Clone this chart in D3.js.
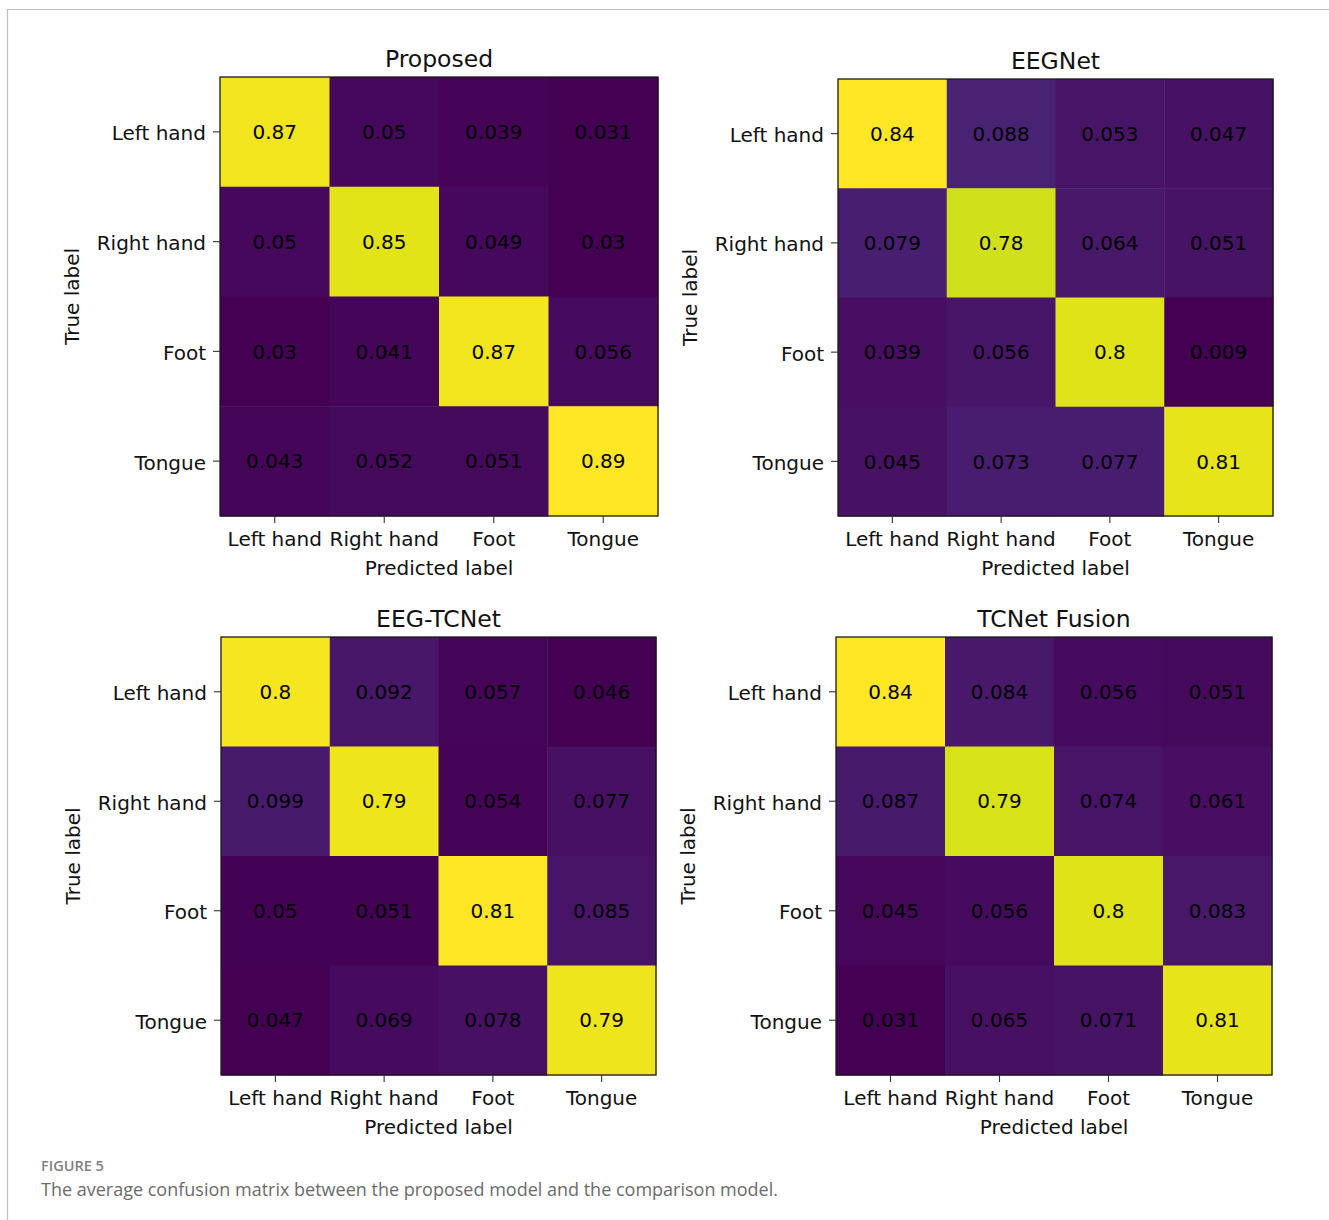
<!DOCTYPE html>
<html>
<head>
<meta charset="utf-8">
<script src="https://cdn.jsdelivr.net/npm/d3@7"></script>
<style>
  html, body { margin: 0; padding: 0; background: #fff; }
  svg { display: block; }
</style>
</head>
<body>
<svg id="fig" width="1329" height="1220"></svg>
<script>
// Class names shared by both axes of every matrix
const classes = ["Left hand", "Right hand", "Foot", "Tongue"];

// Model names, one per panel
const models = ["Proposed", "EEGNet", "EEG-TCNet", "TCNet Fusion"];

// Averaged confusion matrices (rows = true label, columns = predicted label)
const proposed = [
  [0.87, 0.05, 0.039, 0.031],
  [0.05, 0.85, 0.049, 0.03],
  [0.03, 0.041, 0.87, 0.056],
  [0.043, 0.052, 0.051, 0.89]
];
const eegnet = [
  [0.84, 0.088, 0.053, 0.047],
  [0.079, 0.78, 0.064, 0.051],
  [0.039, 0.056, 0.8, 0.009],
  [0.045, 0.073, 0.077, 0.81]
];
const eegTcnet = [
  [0.8, 0.092, 0.057, 0.046],
  [0.099, 0.79, 0.054, 0.077],
  [0.05, 0.051, 0.81, 0.085],
  [0.047, 0.069, 0.078, 0.79]
];
const tcnetFusion = [
  [0.84, 0.084, 0.056, 0.051],
  [0.087, 0.79, 0.074, 0.061],
  [0.045, 0.056, 0.8, 0.083],
  [0.031, 0.065, 0.071, 0.81]
];

const matrices = [proposed, eegnet, eegTcnet, tcnetFusion];

// Caption text
const figureLabel = "FIGURE 5";
const captionText = "The average confusion matrix between the proposed model and the comparison model.";

// Plot boxes of the four panels: [left, top, right, bottom]
const boxes = [
  [220, 77, 658, 516],
  [838, 79, 1273, 516],
  [221, 637, 656, 1075],
  [836, 637, 1272, 1075]
];

const svg = d3.select("#fig");
const FONT = "'DejaVu Sans', sans-serif";
const TICK_SIZE = 20;
const TITLE_SIZE = 23.5;
const INK = "#111";

// Page frame
svg.append("path")
  .attr("d", "M7.5,1220 V9.5 H1329")
  .attr("fill", "none")
  .attr("stroke", "#bdbdbd")
  .attr("stroke-width", 1.2);

const fmt = d3.format(".2");

models.forEach((name, i) => {
  const m = matrices[i];
  const [x0, y0, x1, y1] = boxes[i];
  const g = svg.append("g");

  const x = d3.scaleBand().domain(classes).range([x0, x1]);
  const y = d3.scaleBand().domain(classes).range([y0, y1]);

  const flat = m.flat();
  const color = d3.scaleSequential(d3.interpolateViridis)
    .domain([d3.min(flat), d3.max(flat)]);

  const cells = [];
  m.forEach((row, r) => row.forEach((v, c) => cells.push({ r, c, v })));

  // Heatmap cells
  g.selectAll("rect.cell").data(cells).join("rect")
    .attr("class", "cell")
    .attr("x", d => x(classes[d.c]))
    .attr("y", d => y(classes[d.r]))
    .attr("width", x.bandwidth() + 0.5)
    .attr("height", y.bandwidth() + 0.5)
    .attr("fill", d => color(d.v));

  // Cell value annotations
  g.selectAll("text.val").data(cells).join("text")
    .attr("class", "val")
    .attr("x", d => x(classes[d.c]) + x.bandwidth() / 2)
    .attr("y", d => y(classes[d.r]) + y.bandwidth() / 2)
    .attr("dy", "0.36em")
    .attr("text-anchor", "middle")
    .attr("font-family", FONT)
    .attr("font-size", TICK_SIZE)
    .attr("fill", "#000")
    .text(d => fmt(d.v));

  // Frame around the image
  g.append("rect")
    .attr("x", x0).attr("y", y0)
    .attr("width", x1 - x0).attr("height", y1 - y0)
    .attr("fill", "none")
    .attr("stroke", "#1a1a1a")
    .attr("stroke-width", 1.3);

  // Axes
  const xAxis = g.append("g")
    .attr("transform", `translate(0,${y1})`)
    .call(d3.axisBottom(x).tickSize(7).tickPadding(9));
  const yAxis = g.append("g")
    .attr("transform", `translate(${x0},0)`)
    .call(d3.axisLeft(y).tickSize(7).tickPadding(7));
  [xAxis, yAxis].forEach(ax => {
    ax.select(".domain").remove();
    ax.selectAll("line").attr("stroke", "#333").attr("stroke-width", 1.1);
    ax.selectAll("text")
      .attr("font-family", FONT)
      .attr("font-size", TICK_SIZE)
      .attr("fill", INK);
  });
  yAxis.selectAll("text").attr("dy", "0.42em");

  // Title
  g.append("text")
    .attr("x", (x0 + x1) / 2)
    .attr("y", y0 - 10)
    .attr("text-anchor", "middle")
    .attr("font-family", FONT)
    .attr("font-size", TITLE_SIZE)
    .attr("fill", INK)
    .text(name);

  // Axis labels
  g.append("text")
    .attr("x", (x0 + x1) / 2)
    .attr("y", y1 + 59)
    .attr("text-anchor", "middle")
    .attr("font-family", FONT)
    .attr("font-size", TICK_SIZE)
    .attr("fill", INK)
    .text("Predicted label");

  g.append("text")
    .attr("transform", `translate(${x0 - 141},${(y0 + y1) / 2}) rotate(-90)`)
    .attr("text-anchor", "middle")
    .attr("font-family", FONT)
    .attr("font-size", TICK_SIZE)
    .attr("fill", INK)
    .text("True label");
});

// Caption
svg.append("text")
  .attr("x", 41).attr("y", 1171)
  .attr("font-family", "'Open Sans', sans-serif")
  .attr("font-size", 14.5)
  .attr("font-weight", 600)
  .attr("fill", "#808080")
  .text(figureLabel);

svg.append("text")
  .attr("x", 41).attr("y", 1196)
  .attr("font-family", "'Open Sans', sans-serif")
  .attr("font-size", 18)
  .attr("fill", "#6b6b6b")
  .text(captionText);
</script>
</body>
</html>
